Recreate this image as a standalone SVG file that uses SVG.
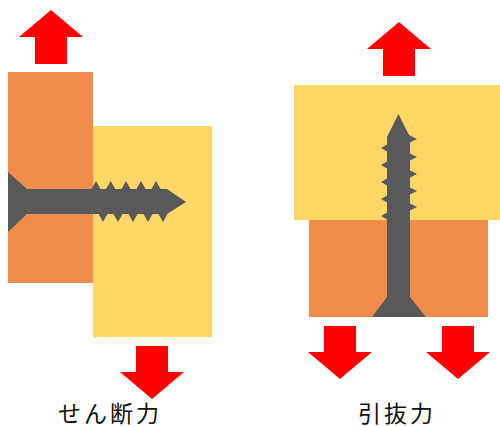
<svg xmlns="http://www.w3.org/2000/svg" width="500" height="426" viewBox="0 0 500 426">
  <style>
    .orange { fill: #EF8E4C; }
    .yellow { fill: #FDD766; }
    .screw { fill: #595959; }
    .force { fill: #FF0000; }
    .label { font-family: "Noto Sans CJK JP", "Noto Sans CJK SC", sans-serif; font-size: 23px; fill: #111111; letter-spacing: 3px; }
  </style>
  <defs>
    <!-- force arrows, tip at origin -->
    <polygon id="arrowUp" points="0,0 32,27 16,27 16,54 -16,54 -16,27 -32,27"/>
    <polygon id="arrowDown" points="0,0 32,-27 16,-27 16,-53 -16,-53 -16,-27 -32,-27"/>
  </defs>

  <!-- shear load case -->
  <g id="shear">
    <g id="shear-plate-left"><rect class="orange" x="8" y="72" width="85" height="211"/></g>
    <g id="shear-plate-right"><rect class="yellow" x="93" y="126" width="119" height="211"/></g>
    <g id="shear-screw" class="screw">
      <polygon points="8,172 27,189 167,189 186,202 167,214 27,214 8,232"/>
      <polygon points="91.5,189 96,181 100.5,189 106,189 110.7,181 115.2,189 121.5,189 126,181 130.5,189 136.5,189 141,181 145.5,189 151.5,189 156,181 160.5,189"/>
      <polygon points="98.5,214 103,222 107.5,214 113.5,214 118,222 122.5,214 128.5,214 133,222 137.5,214 143.5,214 148,222 152.5,214 158.5,214 163,222 167.5,214"/>
    </g>
    <g id="shear-force-up"><use href="#arrowUp" class="force" x="51" y="10"/></g>
    <g id="shear-force-down"><use href="#arrowDown" class="force" x="152" y="399"/></g>
    <text class="label" x="58" y="422">せん断力</text>
  </g>

  <!-- pull-out load case -->
  <g id="pullout">
    <g id="pullout-plate-top"><rect class="yellow" x="294" y="85" width="206" height="135"/></g>
    <g id="pullout-plate-bottom"><rect class="orange" x="309" y="220" width="179" height="97"/></g>
    <g id="pullout-screw" class="screw">
      <polygon points="398.5,114 410,137 410,297 426,317 372,317 387,297 387,137"/>
      <polygon points="409,135 417,139 409,143 409,153 417,157 409,161 409,170 417,174 409,178 409,187 417,191 409,195 409,203 417,207 409,211"/>
      <polygon points="388,144 381,148 388,152 388,161 381,165 388,169 388,178 381,182 388,186 388,195 381,199 388,203 388,212 381,216 388,220"/>
    </g>
    <g id="pullout-force-up"><use href="#arrowUp" class="force" x="399" y="22"/></g>
    <g id="pullout-force-down-left"><use href="#arrowDown" class="force" x="340" y="379"/></g>
    <g id="pullout-force-down-right"><use href="#arrowDown" class="force" x="458" y="379"/></g>
    <text class="label" x="358" y="422">引抜力</text>
  </g>
</svg>
